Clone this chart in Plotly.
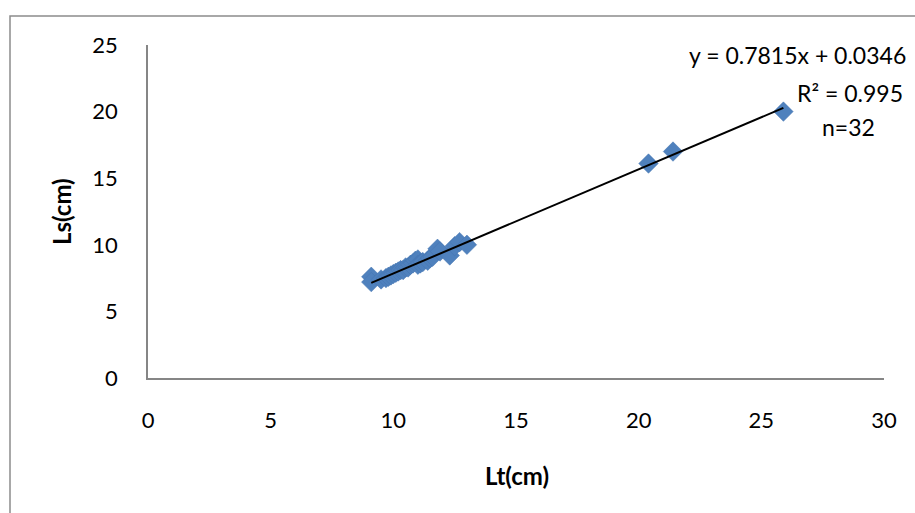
import plotly.graph_objects as go

# Data
lt_cm = [9.1, 9.1, 9.5, 9.7, 9.8, 9.9, 10.0, 10.1, 10.2, 10.3, 10.4, 10.5, 10.6, 10.7, 10.8, 10.9,
         11.0, 11.0, 11.1, 11.2, 11.4, 11.5, 11.6, 11.8, 11.9, 12.3, 12.5, 12.7, 13.0, 20.4, 21.4, 25.9]
ls_cm = [7.6, 7.2, 7.4, 7.5, 7.6, 7.7, 7.8, 7.9, 8.0, 8.1, 8.1, 8.3, 8.3, 8.5, 8.6, 8.8,
         8.9, 8.5, 8.6, 8.7, 8.8, 9.0, 9.1, 9.7, 9.5, 9.2, 9.9, 10.2, 10.0, 16.1, 17.0, 20.0]
slope = 0.7815
intercept = 0.0346
x_ticks = [0, 5, 10, 15, 20, 25, 30]
y_ticks = [0, 5, 10, 15, 20, 25]

FONT = "Lato"
trend_x = [min(lt_cm), max(lt_cm)]
trend_y = [slope * v + intercept for v in trend_x]

fig = go.Figure()
fig.add_trace(go.Scatter(
    x=lt_cm, y=ls_cm, mode="markers",
    marker=dict(symbol="diamond", size=15, color="#4F81BD",
                line=dict(color="#4575B0", width=0.5)),
    showlegend=False, hoverinfo="x+y"))
fig.add_trace(go.Scatter(
    x=trend_x, y=trend_y, mode="lines",
    line=dict(color="black", width=2), showlegend=False, hoverinfo="skip"))

W, H = 915, 513
L, R, T, B = 148, 31, 45, 135
pw, ph = W - L - R, H - T - B

def px_x(p):
    return (p - L) / pw

def px_y(p):
    return (H - B - p) / ph

fig.update_layout(
    width=W, height=H,
    margin=dict(l=L, r=R, t=T, b=B, pad=0),
    paper_bgcolor="white", plot_bgcolor="white",
    font=dict(family=FONT, size=22, color="black"),
    xaxis=dict(range=[0, 30], tickvals=x_ticks, showgrid=False, zeroline=False,
               showline=True, linecolor="#868686", linewidth=1.5, ticks="",
               ticklabelstandoff=22),
    yaxis=dict(range=[0, 25], tickvals=y_ticks, showgrid=False, zeroline=False,
               showline=True, linecolor="#868686", linewidth=1.5, ticks="",
               ticklabelstandoff=24),
    shapes=[dict(type="rect", xref="paper", yref="paper",
                 x0=px_x(10), x1=px_x(930), y0=px_y(530), y1=px_y(16),
                 line=dict(color="#8C8C8C", width=1.5), fillcolor="rgba(0,0,0,0)",
                 layer="below")],
    annotations=[
        dict(text="<b>Lt(cm)</b>", xref="paper", yref="paper",
             x=px_x(517), y=px_y(475), xanchor="center", yanchor="middle",
             showarrow=False, font=dict(size=24)),
        dict(text="<b>Ls(cm)</b>", xref="paper", yref="paper", textangle=-90,
             x=px_x(61), y=px_y(212), xanchor="center", yanchor="middle",
             showarrow=False, font=dict(size=24)),
        dict(text="y = 0.7815x + 0.0346", xref="paper", yref="paper",
             x=px_x(908), y=px_y(55), xanchor="right", yanchor="middle",
             showarrow=False, font=dict(size=23)),
        dict(text="R² = 0.995", xref="paper", yref="paper",
             x=px_x(905), y=px_y(93), xanchor="right", yanchor="middle",
             showarrow=False, font=dict(size=23)),
        dict(text="n=32", xref="paper", yref="paper",
             x=px_x(877), y=px_y(127), xanchor="right", yanchor="middle",
             showarrow=False, font=dict(size=23)),
    ],
)

fig.write_html("out.html", config={"displayModeBar": False},
               post_script="document.body.style.margin='0px';")
